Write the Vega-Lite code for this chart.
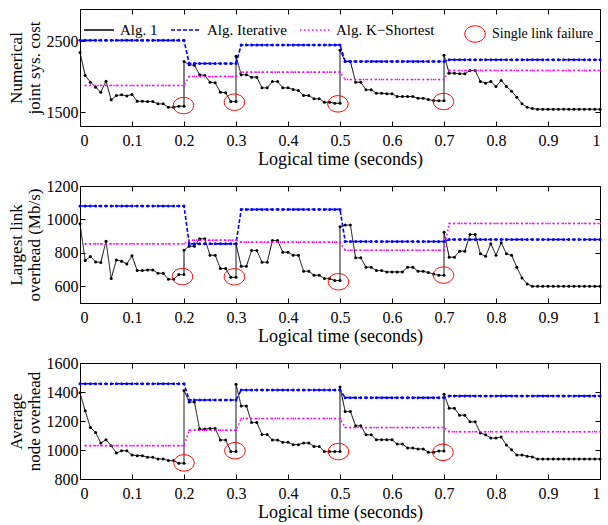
{
"$schema":"https://vega.github.io/schema/vega-lite/v6.json",
"padding":{"left":6,"top":8,"right":0,"bottom":0},
"spacing":60,
"bounds":"flush",
"config":{
 "font":"Liberation Serif",
 "view":{"stroke":"#000000","strokeWidth":1},
 "axis":{"labelFont":"Liberation Serif","labelFontSize":16,"labelColor":"#000","titleFont":"Liberation Serif","titleFontSize":18,"titleFontWeight":"normal","titleColor":"#000","domain":false,"grid":false,"ticks":true,"tickColor":"#000","tickSize":-5,"tickWidth":1},
 "axisY":{"titleFontSize":17,"titleLineHeight":18,"labelPadding":7,"titlePadding":3,"format":"d"},
 "axisX":{"labelPadding":11,"titlePadding":2},
 "legend":{"labelFont":"Liberation Serif","labelFontSize":15,"labelColor":"#000","padding":0}
},
"datasets":{"d":[
{"p":1,"s":"A","t":0,"v":2340},{"p":1,"s":"A","t":0.01,"v":2017},{"p":1,"s":"A","t":0.02,"v":1923},{"p":1,"s":"A","t":0.03,"v":1852},{"p":1,"s":"A","t":0.04,"v":1782},{"p":1,"s":"A","t":0.05,"v":1937},{"p":1,"s":"A","t":0.06,"v":1674},{"p":1,"s":"A","t":0.07,"v":1735},{"p":1,"s":"A","t":0.08,"v":1745},{"p":1,"s":"A","t":0.09,"v":1730},{"p":1,"s":"A","t":0.1,"v":1750},{"p":1,"s":"A","t":0.11,"v":1655},{"p":1,"s":"A","t":0.12,"v":1655},{"p":1,"s":"A","t":0.13,"v":1650},{"p":1,"s":"A","t":0.14,"v":1650},{"p":1,"s":"A","t":0.15,"v":1618},{"p":1,"s":"A","t":0.16,"v":1618},{"p":1,"s":"A","t":0.17,"v":1570},{"p":1,"s":"A","t":0.18,"v":1570},{"p":1,"s":"A","t":0.19,"v":1585},{"p":1,"s":"A","t":0.2,"v":1585},{"p":1,"s":"A","t":0.2,"v":2214},{"p":1,"s":"A","t":0.21,"v":2167},{"p":1,"s":"A","t":0.22,"v":2160},{"p":1,"s":"A","t":0.23,"v":2027},{"p":1,"s":"A","t":0.24,"v":2017},{"p":1,"s":"A","t":0.25,"v":1923},{"p":1,"s":"A","t":0.26,"v":1913},{"p":1,"s":"A","t":0.27,"v":1782},{"p":1,"s":"A","t":0.28,"v":1775},{"p":1,"s":"A","t":0.29,"v":1650},{"p":1,"s":"A","t":0.3,"v":1650},{"p":1,"s":"A","t":0.3,"v":2285},{"p":1,"s":"A","t":0.31,"v":2027},{"p":1,"s":"A","t":0.32,"v":2027},{"p":1,"s":"A","t":0.33,"v":1993},{"p":1,"s":"A","t":0.34,"v":1993},{"p":1,"s":"A","t":0.35,"v":1843},{"p":1,"s":"A","t":0.36,"v":1843},{"p":1,"s":"A","t":0.37,"v":1932},{"p":1,"s":"A","t":0.38,"v":1932},{"p":1,"s":"A","t":0.39,"v":1843},{"p":1,"s":"A","t":0.4,"v":1843},{"p":1,"s":"A","t":0.41,"v":1820},{"p":1,"s":"A","t":0.42,"v":1806},{"p":1,"s":"A","t":0.43,"v":1735},{"p":1,"s":"A","t":0.44,"v":1735},{"p":1,"s":"A","t":0.45,"v":1688},{"p":1,"s":"A","t":0.46,"v":1688},{"p":1,"s":"A","t":0.47,"v":1641},{"p":1,"s":"A","t":0.48,"v":1641},{"p":1,"s":"A","t":0.49,"v":1627},{"p":1,"s":"A","t":0.5,"v":1627},{"p":1,"s":"A","t":0.5,"v":2369},{"p":1,"s":"A","t":0.51,"v":2214},{"p":1,"s":"A","t":0.52,"v":2214},{"p":1,"s":"A","t":0.53,"v":1923},{"p":1,"s":"A","t":0.54,"v":1923},{"p":1,"s":"A","t":0.55,"v":1815},{"p":1,"s":"A","t":0.56,"v":1815},{"p":1,"s":"A","t":0.57,"v":1768},{"p":1,"s":"A","t":0.58,"v":1768},{"p":1,"s":"A","t":0.59,"v":1759},{"p":1,"s":"A","t":0.6,"v":1759},{"p":1,"s":"A","t":0.61,"v":1721},{"p":1,"s":"A","t":0.62,"v":1721},{"p":1,"s":"A","t":0.63,"v":1721},{"p":1,"s":"A","t":0.64,"v":1721},{"p":1,"s":"A","t":0.65,"v":1697},{"p":1,"s":"A","t":0.66,"v":1697},{"p":1,"s":"A","t":0.67,"v":1678},{"p":1,"s":"A","t":0.68,"v":1665},{"p":1,"s":"A","t":0.69,"v":1660},{"p":1,"s":"A","t":0.7,"v":1660},{"p":1,"s":"A","t":0.7,"v":2299},{"p":1,"s":"A","t":0.71,"v":2049},{"p":1,"s":"A","t":0.72,"v":2049},{"p":1,"s":"A","t":0.73,"v":2040},{"p":1,"s":"A","t":0.74,"v":2040},{"p":1,"s":"A","t":0.75,"v":2087},{"p":1,"s":"A","t":0.76,"v":2087},{"p":1,"s":"A","t":0.77,"v":1932},{"p":1,"s":"A","t":0.78,"v":1909},{"p":1,"s":"A","t":0.79,"v":1932},{"p":1,"s":"A","t":0.8,"v":1862},{"p":1,"s":"A","t":0.81,"v":1946},{"p":1,"s":"A","t":0.82,"v":1862},{"p":1,"s":"A","t":0.83,"v":1796},{"p":1,"s":"A","t":0.84,"v":1711},{"p":1,"s":"A","t":0.85,"v":1618},{"p":1,"s":"A","t":0.86,"v":1570},{"p":1,"s":"A","t":0.87,"v":1552},{"p":1,"s":"A","t":0.88,"v":1543},{"p":1,"s":"A","t":0.89,"v":1543},{"p":1,"s":"A","t":0.9,"v":1543},{"p":1,"s":"A","t":0.91,"v":1543},{"p":1,"s":"A","t":0.92,"v":1543},{"p":1,"s":"A","t":0.93,"v":1543},{"p":1,"s":"A","t":0.94,"v":1543},{"p":1,"s":"A","t":0.95,"v":1543},{"p":1,"s":"A","t":0.96,"v":1543},{"p":1,"s":"A","t":0.97,"v":1543},{"p":1,"s":"A","t":0.98,"v":1543},{"p":1,"s":"A","t":0.99,"v":1543},{"p":1,"s":"A","t":1,"v":1543},
{"p":1,"s":"I","t":0,"v":2510},{"p":1,"s":"I","t":0.01,"v":2510},{"p":1,"s":"I","t":0.02,"v":2510},{"p":1,"s":"I","t":0.03,"v":2510},{"p":1,"s":"I","t":0.04,"v":2510},{"p":1,"s":"I","t":0.05,"v":2510},{"p":1,"s":"I","t":0.06,"v":2510},{"p":1,"s":"I","t":0.07,"v":2510},{"p":1,"s":"I","t":0.08,"v":2510},{"p":1,"s":"I","t":0.09,"v":2510},{"p":1,"s":"I","t":0.1,"v":2510},{"p":1,"s":"I","t":0.11,"v":2510},{"p":1,"s":"I","t":0.12,"v":2510},{"p":1,"s":"I","t":0.13,"v":2510},{"p":1,"s":"I","t":0.14,"v":2510},{"p":1,"s":"I","t":0.15,"v":2510},{"p":1,"s":"I","t":0.16,"v":2510},{"p":1,"s":"I","t":0.17,"v":2510},{"p":1,"s":"I","t":0.18,"v":2510},{"p":1,"s":"I","t":0.19,"v":2510},{"p":1,"s":"I","t":0.2,"v":2510},{"p":1,"s":"I","t":0.21,"v":2185},{"p":1,"s":"I","t":0.22,"v":2185},{"p":1,"s":"I","t":0.23,"v":2185},{"p":1,"s":"I","t":0.24,"v":2185},{"p":1,"s":"I","t":0.25,"v":2185},{"p":1,"s":"I","t":0.26,"v":2185},{"p":1,"s":"I","t":0.27,"v":2185},{"p":1,"s":"I","t":0.28,"v":2185},{"p":1,"s":"I","t":0.29,"v":2185},{"p":1,"s":"I","t":0.3,"v":2185},{"p":1,"s":"I","t":0.31,"v":2445},{"p":1,"s":"I","t":0.32,"v":2445},{"p":1,"s":"I","t":0.33,"v":2445},{"p":1,"s":"I","t":0.34,"v":2445},{"p":1,"s":"I","t":0.35,"v":2445},{"p":1,"s":"I","t":0.36,"v":2445},{"p":1,"s":"I","t":0.37,"v":2445},{"p":1,"s":"I","t":0.38,"v":2445},{"p":1,"s":"I","t":0.39,"v":2445},{"p":1,"s":"I","t":0.4,"v":2445},{"p":1,"s":"I","t":0.41,"v":2445},{"p":1,"s":"I","t":0.42,"v":2445},{"p":1,"s":"I","t":0.43,"v":2445},{"p":1,"s":"I","t":0.44,"v":2445},{"p":1,"s":"I","t":0.45,"v":2445},{"p":1,"s":"I","t":0.46,"v":2445},{"p":1,"s":"I","t":0.47,"v":2445},{"p":1,"s":"I","t":0.48,"v":2445},{"p":1,"s":"I","t":0.49,"v":2445},{"p":1,"s":"I","t":0.5,"v":2445},{"p":1,"s":"I","t":0.51,"v":2214},{"p":1,"s":"I","t":0.52,"v":2214},{"p":1,"s":"I","t":0.53,"v":2214},{"p":1,"s":"I","t":0.54,"v":2214},{"p":1,"s":"I","t":0.55,"v":2214},{"p":1,"s":"I","t":0.56,"v":2214},{"p":1,"s":"I","t":0.57,"v":2214},{"p":1,"s":"I","t":0.58,"v":2214},{"p":1,"s":"I","t":0.59,"v":2214},{"p":1,"s":"I","t":0.6,"v":2214},{"p":1,"s":"I","t":0.61,"v":2214},{"p":1,"s":"I","t":0.62,"v":2214},{"p":1,"s":"I","t":0.63,"v":2214},{"p":1,"s":"I","t":0.64,"v":2214},{"p":1,"s":"I","t":0.65,"v":2214},{"p":1,"s":"I","t":0.66,"v":2214},{"p":1,"s":"I","t":0.67,"v":2214},{"p":1,"s":"I","t":0.68,"v":2214},{"p":1,"s":"I","t":0.69,"v":2214},{"p":1,"s":"I","t":0.7,"v":2214},{"p":1,"s":"I","t":0.71,"v":2238},{"p":1,"s":"I","t":0.72,"v":2238},{"p":1,"s":"I","t":0.73,"v":2238},{"p":1,"s":"I","t":0.74,"v":2238},{"p":1,"s":"I","t":0.75,"v":2238},{"p":1,"s":"I","t":0.76,"v":2238},{"p":1,"s":"I","t":0.77,"v":2238},{"p":1,"s":"I","t":0.78,"v":2238},{"p":1,"s":"I","t":0.79,"v":2238},{"p":1,"s":"I","t":0.8,"v":2238},{"p":1,"s":"I","t":0.81,"v":2238},{"p":1,"s":"I","t":0.82,"v":2238},{"p":1,"s":"I","t":0.83,"v":2238},{"p":1,"s":"I","t":0.84,"v":2238},{"p":1,"s":"I","t":0.85,"v":2238},{"p":1,"s":"I","t":0.86,"v":2238},{"p":1,"s":"I","t":0.87,"v":2238},{"p":1,"s":"I","t":0.88,"v":2238},{"p":1,"s":"I","t":0.89,"v":2238},{"p":1,"s":"I","t":0.9,"v":2238},{"p":1,"s":"I","t":0.91,"v":2238},{"p":1,"s":"I","t":0.92,"v":2238},{"p":1,"s":"I","t":0.93,"v":2238},{"p":1,"s":"I","t":0.94,"v":2238},{"p":1,"s":"I","t":0.95,"v":2238},{"p":1,"s":"I","t":0.96,"v":2238},{"p":1,"s":"I","t":0.97,"v":2238},{"p":1,"s":"I","t":0.98,"v":2238},{"p":1,"s":"I","t":0.99,"v":2238},{"p":1,"s":"I","t":1,"v":2238},
{"p":1,"s":"K","t":0.01,"v":1876},{"p":1,"s":"K","t":0.02,"v":1876},{"p":1,"s":"K","t":0.03,"v":1876},{"p":1,"s":"K","t":0.04,"v":1876},{"p":1,"s":"K","t":0.05,"v":1876},{"p":1,"s":"K","t":0.06,"v":1876},{"p":1,"s":"K","t":0.07,"v":1876},{"p":1,"s":"K","t":0.08,"v":1876},{"p":1,"s":"K","t":0.09,"v":1876},{"p":1,"s":"K","t":0.1,"v":1876},{"p":1,"s":"K","t":0.11,"v":1876},{"p":1,"s":"K","t":0.12,"v":1876},{"p":1,"s":"K","t":0.13,"v":1876},{"p":1,"s":"K","t":0.14,"v":1876},{"p":1,"s":"K","t":0.15,"v":1876},{"p":1,"s":"K","t":0.16,"v":1876},{"p":1,"s":"K","t":0.17,"v":1876},{"p":1,"s":"K","t":0.18,"v":1876},{"p":1,"s":"K","t":0.19,"v":1876},{"p":1,"s":"K","t":0.2,"v":1876},{"p":1,"s":"K","t":0.21,"v":2003},{"p":1,"s":"K","t":0.22,"v":2003},{"p":1,"s":"K","t":0.23,"v":2003},{"p":1,"s":"K","t":0.24,"v":2003},{"p":1,"s":"K","t":0.25,"v":2003},{"p":1,"s":"K","t":0.26,"v":2003},{"p":1,"s":"K","t":0.27,"v":2003},{"p":1,"s":"K","t":0.28,"v":2003},{"p":1,"s":"K","t":0.29,"v":2003},{"p":1,"s":"K","t":0.3,"v":2003},{"p":1,"s":"K","t":0.31,"v":2063},{"p":1,"s":"K","t":0.32,"v":2063},{"p":1,"s":"K","t":0.33,"v":2063},{"p":1,"s":"K","t":0.34,"v":2063},{"p":1,"s":"K","t":0.35,"v":2063},{"p":1,"s":"K","t":0.36,"v":2063},{"p":1,"s":"K","t":0.37,"v":2063},{"p":1,"s":"K","t":0.38,"v":2063},{"p":1,"s":"K","t":0.39,"v":2063},{"p":1,"s":"K","t":0.4,"v":2063},{"p":1,"s":"K","t":0.41,"v":2063},{"p":1,"s":"K","t":0.42,"v":2063},{"p":1,"s":"K","t":0.43,"v":2063},{"p":1,"s":"K","t":0.44,"v":2063},{"p":1,"s":"K","t":0.45,"v":2063},{"p":1,"s":"K","t":0.46,"v":2063},{"p":1,"s":"K","t":0.47,"v":2063},{"p":1,"s":"K","t":0.48,"v":2063},{"p":1,"s":"K","t":0.49,"v":2063},{"p":1,"s":"K","t":0.5,"v":2063},{"p":1,"s":"K","t":0.51,"v":1960},{"p":1,"s":"K","t":0.52,"v":1960},{"p":1,"s":"K","t":0.53,"v":1960},{"p":1,"s":"K","t":0.54,"v":1960},{"p":1,"s":"K","t":0.55,"v":1960},{"p":1,"s":"K","t":0.56,"v":1960},{"p":1,"s":"K","t":0.57,"v":1960},{"p":1,"s":"K","t":0.58,"v":1960},{"p":1,"s":"K","t":0.59,"v":1960},{"p":1,"s":"K","t":0.6,"v":1960},{"p":1,"s":"K","t":0.61,"v":1960},{"p":1,"s":"K","t":0.62,"v":1960},{"p":1,"s":"K","t":0.63,"v":1960},{"p":1,"s":"K","t":0.64,"v":1960},{"p":1,"s":"K","t":0.65,"v":1960},{"p":1,"s":"K","t":0.66,"v":1960},{"p":1,"s":"K","t":0.67,"v":1960},{"p":1,"s":"K","t":0.68,"v":1960},{"p":1,"s":"K","t":0.69,"v":1960},{"p":1,"s":"K","t":0.7,"v":1960},{"p":1,"s":"K","t":0.71,"v":2087},{"p":1,"s":"K","t":0.72,"v":2087},{"p":1,"s":"K","t":0.73,"v":2087},{"p":1,"s":"K","t":0.74,"v":2087},{"p":1,"s":"K","t":0.75,"v":2087},{"p":1,"s":"K","t":0.76,"v":2087},{"p":1,"s":"K","t":0.77,"v":2087},{"p":1,"s":"K","t":0.78,"v":2087},{"p":1,"s":"K","t":0.79,"v":2087},{"p":1,"s":"K","t":0.8,"v":2087},{"p":1,"s":"K","t":0.81,"v":2087},{"p":1,"s":"K","t":0.82,"v":2087},{"p":1,"s":"K","t":0.83,"v":2087},{"p":1,"s":"K","t":0.84,"v":2087},{"p":1,"s":"K","t":0.85,"v":2087},{"p":1,"s":"K","t":0.86,"v":2087},{"p":1,"s":"K","t":0.87,"v":2087},{"p":1,"s":"K","t":0.88,"v":2087},{"p":1,"s":"K","t":0.89,"v":2087},{"p":1,"s":"K","t":0.9,"v":2087},{"p":1,"s":"K","t":0.91,"v":2087},{"p":1,"s":"K","t":0.92,"v":2087},{"p":1,"s":"K","t":0.93,"v":2087},{"p":1,"s":"K","t":0.94,"v":2087},{"p":1,"s":"K","t":0.95,"v":2087},{"p":1,"s":"K","t":0.96,"v":2087},{"p":1,"s":"K","t":0.97,"v":2087},{"p":1,"s":"K","t":0.98,"v":2087},{"p":1,"s":"K","t":0.99,"v":2087},{"p":1,"s":"K","t":1,"v":2087},
{"p":1,"s":"C","t":0.199,"v":1594},{"p":1,"s":"C","t":0.297,"v":1641},{"p":1,"s":"C","t":0.496,"v":1618},{"p":1,"s":"C","t":0.699,"v":1651},
{"p":2,"s":"A","t":0,"v":974},{"p":2,"s":"A","t":0.01,"v":754},{"p":2,"s":"A","t":0.02,"v":778},{"p":2,"s":"A","t":0.03,"v":746},{"p":2,"s":"A","t":0.04,"v":742},{"p":2,"s":"A","t":0.05,"v":870},{"p":2,"s":"A","t":0.06,"v":646},{"p":2,"s":"A","t":0.07,"v":758},{"p":2,"s":"A","t":0.08,"v":750},{"p":2,"s":"A","t":0.09,"v":734},{"p":2,"s":"A","t":0.1,"v":782},{"p":2,"s":"A","t":0.11,"v":694},{"p":2,"s":"A","t":0.12,"v":694},{"p":2,"s":"A","t":0.13,"v":698},{"p":2,"s":"A","t":0.14,"v":698},{"p":2,"s":"A","t":0.15,"v":678},{"p":2,"s":"A","t":0.16,"v":678},{"p":2,"s":"A","t":0.17,"v":642},{"p":2,"s":"A","t":0.18,"v":642},{"p":2,"s":"A","t":0.19,"v":670},{"p":2,"s":"A","t":0.2,"v":670},{"p":2,"s":"A","t":0.2,"v":816},{"p":2,"s":"A","t":0.21,"v":840},{"p":2,"s":"A","t":0.22,"v":840},{"p":2,"s":"A","t":0.23,"v":884},{"p":2,"s":"A","t":0.24,"v":884},{"p":2,"s":"A","t":0.25,"v":786},{"p":2,"s":"A","t":0.26,"v":786},{"p":2,"s":"A","t":0.27,"v":706},{"p":2,"s":"A","t":0.28,"v":706},{"p":2,"s":"A","t":0.29,"v":654},{"p":2,"s":"A","t":0.3,"v":654},{"p":2,"s":"A","t":0.3,"v":854},{"p":2,"s":"A","t":0.31,"v":720},{"p":2,"s":"A","t":0.32,"v":720},{"p":2,"s":"A","t":0.33,"v":814},{"p":2,"s":"A","t":0.34,"v":814},{"p":2,"s":"A","t":0.35,"v":744},{"p":2,"s":"A","t":0.36,"v":744},{"p":2,"s":"A","t":0.37,"v":874},{"p":2,"s":"A","t":0.38,"v":874},{"p":2,"s":"A","t":0.39,"v":804},{"p":2,"s":"A","t":0.4,"v":804},{"p":2,"s":"A","t":0.41,"v":786},{"p":2,"s":"A","t":0.42,"v":786},{"p":2,"s":"A","t":0.43,"v":690},{"p":2,"s":"A","t":0.44,"v":690},{"p":2,"s":"A","t":0.45,"v":666},{"p":2,"s":"A","t":0.46,"v":666},{"p":2,"s":"A","t":0.47,"v":646},{"p":2,"s":"A","t":0.48,"v":646},{"p":2,"s":"A","t":0.49,"v":634},{"p":2,"s":"A","t":0.5,"v":634},{"p":2,"s":"A","t":0.5,"v":956},{"p":2,"s":"A","t":0.51,"v":966},{"p":2,"s":"A","t":0.52,"v":966},{"p":2,"s":"A","t":0.53,"v":770},{"p":2,"s":"A","t":0.54,"v":770},{"p":2,"s":"A","t":0.55,"v":714},{"p":2,"s":"A","t":0.56,"v":714},{"p":2,"s":"A","t":0.57,"v":694},{"p":2,"s":"A","t":0.58,"v":694},{"p":2,"s":"A","t":0.59,"v":686},{"p":2,"s":"A","t":0.6,"v":686},{"p":2,"s":"A","t":0.61,"v":686},{"p":2,"s":"A","t":0.62,"v":686},{"p":2,"s":"A","t":0.63,"v":714},{"p":2,"s":"A","t":0.64,"v":714},{"p":2,"s":"A","t":0.65,"v":690},{"p":2,"s":"A","t":0.66,"v":690},{"p":2,"s":"A","t":0.67,"v":682},{"p":2,"s":"A","t":0.68,"v":674},{"p":2,"s":"A","t":0.69,"v":666},{"p":2,"s":"A","t":0.7,"v":666},{"p":2,"s":"A","t":0.7,"v":924},{"p":2,"s":"A","t":0.71,"v":774},{"p":2,"s":"A","t":0.72,"v":774},{"p":2,"s":"A","t":0.73,"v":810},{"p":2,"s":"A","t":0.74,"v":810},{"p":2,"s":"A","t":0.75,"v":910},{"p":2,"s":"A","t":0.76,"v":910},{"p":2,"s":"A","t":0.77,"v":794},{"p":2,"s":"A","t":0.78,"v":780},{"p":2,"s":"A","t":0.79,"v":854},{"p":2,"s":"A","t":0.8,"v":786},{"p":2,"s":"A","t":0.81,"v":860},{"p":2,"s":"A","t":0.82,"v":794},{"p":2,"s":"A","t":0.83,"v":786},{"p":2,"s":"A","t":0.84,"v":714},{"p":2,"s":"A","t":0.85,"v":650},{"p":2,"s":"A","t":0.86,"v":614},{"p":2,"s":"A","t":0.87,"v":600},{"p":2,"s":"A","t":0.88,"v":600},{"p":2,"s":"A","t":0.89,"v":600},{"p":2,"s":"A","t":0.9,"v":600},{"p":2,"s":"A","t":0.91,"v":600},{"p":2,"s":"A","t":0.92,"v":600},{"p":2,"s":"A","t":0.93,"v":600},{"p":2,"s":"A","t":0.94,"v":600},{"p":2,"s":"A","t":0.95,"v":600},{"p":2,"s":"A","t":0.96,"v":600},{"p":2,"s":"A","t":0.97,"v":600},{"p":2,"s":"A","t":0.98,"v":600},{"p":2,"s":"A","t":0.99,"v":600},{"p":2,"s":"A","t":1,"v":600},
{"p":2,"s":"I","t":0,"v":1080},{"p":2,"s":"I","t":0.01,"v":1080},{"p":2,"s":"I","t":0.02,"v":1080},{"p":2,"s":"I","t":0.03,"v":1080},{"p":2,"s":"I","t":0.04,"v":1080},{"p":2,"s":"I","t":0.05,"v":1080},{"p":2,"s":"I","t":0.06,"v":1080},{"p":2,"s":"I","t":0.07,"v":1080},{"p":2,"s":"I","t":0.08,"v":1080},{"p":2,"s":"I","t":0.09,"v":1080},{"p":2,"s":"I","t":0.1,"v":1080},{"p":2,"s":"I","t":0.11,"v":1080},{"p":2,"s":"I","t":0.12,"v":1080},{"p":2,"s":"I","t":0.13,"v":1080},{"p":2,"s":"I","t":0.14,"v":1080},{"p":2,"s":"I","t":0.15,"v":1080},{"p":2,"s":"I","t":0.16,"v":1080},{"p":2,"s":"I","t":0.17,"v":1080},{"p":2,"s":"I","t":0.18,"v":1080},{"p":2,"s":"I","t":0.19,"v":1080},{"p":2,"s":"I","t":0.2,"v":1080},{"p":2,"s":"I","t":0.21,"v":854},{"p":2,"s":"I","t":0.22,"v":854},{"p":2,"s":"I","t":0.23,"v":854},{"p":2,"s":"I","t":0.24,"v":854},{"p":2,"s":"I","t":0.25,"v":854},{"p":2,"s":"I","t":0.26,"v":854},{"p":2,"s":"I","t":0.27,"v":854},{"p":2,"s":"I","t":0.28,"v":854},{"p":2,"s":"I","t":0.29,"v":854},{"p":2,"s":"I","t":0.3,"v":854},{"p":2,"s":"I","t":0.31,"v":1060},{"p":2,"s":"I","t":0.32,"v":1060},{"p":2,"s":"I","t":0.33,"v":1060},{"p":2,"s":"I","t":0.34,"v":1060},{"p":2,"s":"I","t":0.35,"v":1060},{"p":2,"s":"I","t":0.36,"v":1060},{"p":2,"s":"I","t":0.37,"v":1060},{"p":2,"s":"I","t":0.38,"v":1060},{"p":2,"s":"I","t":0.39,"v":1060},{"p":2,"s":"I","t":0.4,"v":1060},{"p":2,"s":"I","t":0.41,"v":1060},{"p":2,"s":"I","t":0.42,"v":1060},{"p":2,"s":"I","t":0.43,"v":1060},{"p":2,"s":"I","t":0.44,"v":1060},{"p":2,"s":"I","t":0.45,"v":1060},{"p":2,"s":"I","t":0.46,"v":1060},{"p":2,"s":"I","t":0.47,"v":1060},{"p":2,"s":"I","t":0.48,"v":1060},{"p":2,"s":"I","t":0.49,"v":1060},{"p":2,"s":"I","t":0.5,"v":1060},{"p":2,"s":"I","t":0.51,"v":868},{"p":2,"s":"I","t":0.52,"v":868},{"p":2,"s":"I","t":0.53,"v":868},{"p":2,"s":"I","t":0.54,"v":868},{"p":2,"s":"I","t":0.55,"v":868},{"p":2,"s":"I","t":0.56,"v":868},{"p":2,"s":"I","t":0.57,"v":868},{"p":2,"s":"I","t":0.58,"v":868},{"p":2,"s":"I","t":0.59,"v":868},{"p":2,"s":"I","t":0.6,"v":868},{"p":2,"s":"I","t":0.61,"v":868},{"p":2,"s":"I","t":0.62,"v":868},{"p":2,"s":"I","t":0.63,"v":868},{"p":2,"s":"I","t":0.64,"v":868},{"p":2,"s":"I","t":0.65,"v":868},{"p":2,"s":"I","t":0.66,"v":868},{"p":2,"s":"I","t":0.67,"v":868},{"p":2,"s":"I","t":0.68,"v":868},{"p":2,"s":"I","t":0.69,"v":868},{"p":2,"s":"I","t":0.7,"v":868},{"p":2,"s":"I","t":0.71,"v":880},{"p":2,"s":"I","t":0.72,"v":880},{"p":2,"s":"I","t":0.73,"v":880},{"p":2,"s":"I","t":0.74,"v":880},{"p":2,"s":"I","t":0.75,"v":880},{"p":2,"s":"I","t":0.76,"v":880},{"p":2,"s":"I","t":0.77,"v":880},{"p":2,"s":"I","t":0.78,"v":880},{"p":2,"s":"I","t":0.79,"v":880},{"p":2,"s":"I","t":0.8,"v":880},{"p":2,"s":"I","t":0.81,"v":880},{"p":2,"s":"I","t":0.82,"v":880},{"p":2,"s":"I","t":0.83,"v":880},{"p":2,"s":"I","t":0.84,"v":880},{"p":2,"s":"I","t":0.85,"v":880},{"p":2,"s":"I","t":0.86,"v":880},{"p":2,"s":"I","t":0.87,"v":880},{"p":2,"s":"I","t":0.88,"v":880},{"p":2,"s":"I","t":0.89,"v":880},{"p":2,"s":"I","t":0.9,"v":880},{"p":2,"s":"I","t":0.91,"v":880},{"p":2,"s":"I","t":0.92,"v":880},{"p":2,"s":"I","t":0.93,"v":880},{"p":2,"s":"I","t":0.94,"v":880},{"p":2,"s":"I","t":0.95,"v":880},{"p":2,"s":"I","t":0.96,"v":880},{"p":2,"s":"I","t":0.97,"v":880},{"p":2,"s":"I","t":0.98,"v":880},{"p":2,"s":"I","t":0.99,"v":880},{"p":2,"s":"I","t":1,"v":880},
{"p":2,"s":"K","t":0.01,"v":854},{"p":2,"s":"K","t":0.02,"v":854},{"p":2,"s":"K","t":0.03,"v":854},{"p":2,"s":"K","t":0.04,"v":854},{"p":2,"s":"K","t":0.05,"v":854},{"p":2,"s":"K","t":0.06,"v":854},{"p":2,"s":"K","t":0.07,"v":854},{"p":2,"s":"K","t":0.08,"v":854},{"p":2,"s":"K","t":0.09,"v":854},{"p":2,"s":"K","t":0.1,"v":854},{"p":2,"s":"K","t":0.11,"v":854},{"p":2,"s":"K","t":0.12,"v":854},{"p":2,"s":"K","t":0.13,"v":854},{"p":2,"s":"K","t":0.14,"v":854},{"p":2,"s":"K","t":0.15,"v":854},{"p":2,"s":"K","t":0.16,"v":854},{"p":2,"s":"K","t":0.17,"v":854},{"p":2,"s":"K","t":0.18,"v":854},{"p":2,"s":"K","t":0.19,"v":854},{"p":2,"s":"K","t":0.2,"v":854},{"p":2,"s":"K","t":0.21,"v":876},{"p":2,"s":"K","t":0.22,"v":876},{"p":2,"s":"K","t":0.23,"v":876},{"p":2,"s":"K","t":0.24,"v":876},{"p":2,"s":"K","t":0.25,"v":876},{"p":2,"s":"K","t":0.26,"v":876},{"p":2,"s":"K","t":0.27,"v":876},{"p":2,"s":"K","t":0.28,"v":876},{"p":2,"s":"K","t":0.29,"v":876},{"p":2,"s":"K","t":0.3,"v":876},{"p":2,"s":"K","t":0.31,"v":864},{"p":2,"s":"K","t":0.32,"v":864},{"p":2,"s":"K","t":0.33,"v":864},{"p":2,"s":"K","t":0.34,"v":864},{"p":2,"s":"K","t":0.35,"v":864},{"p":2,"s":"K","t":0.36,"v":864},{"p":2,"s":"K","t":0.37,"v":864},{"p":2,"s":"K","t":0.38,"v":864},{"p":2,"s":"K","t":0.39,"v":864},{"p":2,"s":"K","t":0.4,"v":864},{"p":2,"s":"K","t":0.41,"v":864},{"p":2,"s":"K","t":0.42,"v":864},{"p":2,"s":"K","t":0.43,"v":864},{"p":2,"s":"K","t":0.44,"v":864},{"p":2,"s":"K","t":0.45,"v":864},{"p":2,"s":"K","t":0.46,"v":864},{"p":2,"s":"K","t":0.47,"v":864},{"p":2,"s":"K","t":0.48,"v":864},{"p":2,"s":"K","t":0.49,"v":864},{"p":2,"s":"K","t":0.5,"v":864},{"p":2,"s":"K","t":0.51,"v":816},{"p":2,"s":"K","t":0.52,"v":816},{"p":2,"s":"K","t":0.53,"v":816},{"p":2,"s":"K","t":0.54,"v":816},{"p":2,"s":"K","t":0.55,"v":816},{"p":2,"s":"K","t":0.56,"v":816},{"p":2,"s":"K","t":0.57,"v":816},{"p":2,"s":"K","t":0.58,"v":816},{"p":2,"s":"K","t":0.59,"v":816},{"p":2,"s":"K","t":0.6,"v":816},{"p":2,"s":"K","t":0.61,"v":816},{"p":2,"s":"K","t":0.62,"v":816},{"p":2,"s":"K","t":0.63,"v":816},{"p":2,"s":"K","t":0.64,"v":816},{"p":2,"s":"K","t":0.65,"v":816},{"p":2,"s":"K","t":0.66,"v":816},{"p":2,"s":"K","t":0.67,"v":816},{"p":2,"s":"K","t":0.68,"v":816},{"p":2,"s":"K","t":0.69,"v":816},{"p":2,"s":"K","t":0.7,"v":816},{"p":2,"s":"K","t":0.71,"v":976},{"p":2,"s":"K","t":0.72,"v":976},{"p":2,"s":"K","t":0.73,"v":976},{"p":2,"s":"K","t":0.74,"v":976},{"p":2,"s":"K","t":0.75,"v":976},{"p":2,"s":"K","t":0.76,"v":976},{"p":2,"s":"K","t":0.77,"v":976},{"p":2,"s":"K","t":0.78,"v":976},{"p":2,"s":"K","t":0.79,"v":976},{"p":2,"s":"K","t":0.8,"v":976},{"p":2,"s":"K","t":0.81,"v":976},{"p":2,"s":"K","t":0.82,"v":976},{"p":2,"s":"K","t":0.83,"v":976},{"p":2,"s":"K","t":0.84,"v":976},{"p":2,"s":"K","t":0.85,"v":976},{"p":2,"s":"K","t":0.86,"v":976},{"p":2,"s":"K","t":0.87,"v":976},{"p":2,"s":"K","t":0.88,"v":976},{"p":2,"s":"K","t":0.89,"v":976},{"p":2,"s":"K","t":0.9,"v":976},{"p":2,"s":"K","t":0.91,"v":976},{"p":2,"s":"K","t":0.92,"v":976},{"p":2,"s":"K","t":0.93,"v":976},{"p":2,"s":"K","t":0.94,"v":976},{"p":2,"s":"K","t":0.95,"v":976},{"p":2,"s":"K","t":0.96,"v":976},{"p":2,"s":"K","t":0.97,"v":976},{"p":2,"s":"K","t":0.98,"v":976},{"p":2,"s":"K","t":0.99,"v":976},{"p":2,"s":"K","t":1,"v":976},
{"p":2,"s":"C","t":0.197,"v":658},{"p":2,"s":"C","t":0.297,"v":657},{"p":2,"s":"C","t":0.497,"v":627},{"p":2,"s":"C","t":0.699,"v":667},
{"p":3,"s":"A","t":0,"v":1395},{"p":3,"s":"A","t":0.01,"v":1270},{"p":3,"s":"A","t":0.02,"v":1155},{"p":3,"s":"A","t":0.03,"v":1121},{"p":3,"s":"A","t":0.04,"v":1048},{"p":3,"s":"A","t":0.05,"v":1071},{"p":3,"s":"A","t":0.06,"v":1030},{"p":3,"s":"A","t":0.07,"v":979},{"p":3,"s":"A","t":0.08,"v":995},{"p":3,"s":"A","t":0.09,"v":995},{"p":3,"s":"A","t":0.1,"v":966},{"p":3,"s":"A","t":0.11,"v":961},{"p":3,"s":"A","t":0.12,"v":961},{"p":3,"s":"A","t":0.13,"v":950},{"p":3,"s":"A","t":0.14,"v":950},{"p":3,"s":"A","t":0.15,"v":938},{"p":3,"s":"A","t":0.16,"v":938},{"p":3,"s":"A","t":0.17,"v":927},{"p":3,"s":"A","t":0.18,"v":927},{"p":3,"s":"A","t":0.19,"v":909},{"p":3,"s":"A","t":0.2,"v":909},{"p":3,"s":"A","t":0.2,"v":1411},{"p":3,"s":"A","t":0.21,"v":1331},{"p":3,"s":"A","t":0.22,"v":1331},{"p":3,"s":"A","t":0.23,"v":1144},{"p":3,"s":"A","t":0.24,"v":1144},{"p":3,"s":"A","t":0.25,"v":1149},{"p":3,"s":"A","t":0.26,"v":1149},{"p":3,"s":"A","t":0.27,"v":1069},{"p":3,"s":"A","t":0.28,"v":1069},{"p":3,"s":"A","t":0.29,"v":989},{"p":3,"s":"A","t":0.3,"v":989},{"p":3,"s":"A","t":0.3,"v":1453},{"p":3,"s":"A","t":0.31,"v":1304},{"p":3,"s":"A","t":0.32,"v":1304},{"p":3,"s":"A","t":0.33,"v":1190},{"p":3,"s":"A","t":0.34,"v":1190},{"p":3,"s":"A","t":0.35,"v":1107},{"p":3,"s":"A","t":0.36,"v":1107},{"p":3,"s":"A","t":0.37,"v":1069},{"p":3,"s":"A","t":0.38,"v":1069},{"p":3,"s":"A","t":0.39,"v":1053},{"p":3,"s":"A","t":0.4,"v":1053},{"p":3,"s":"A","t":0.41,"v":1037},{"p":3,"s":"A","t":0.42,"v":1037},{"p":3,"s":"A","t":0.43,"v":1048},{"p":3,"s":"A","t":0.44,"v":1048},{"p":3,"s":"A","t":0.45,"v":1025},{"p":3,"s":"A","t":0.46,"v":1025},{"p":3,"s":"A","t":0.47,"v":989},{"p":3,"s":"A","t":0.48,"v":989},{"p":3,"s":"A","t":0.49,"v":989},{"p":3,"s":"A","t":0.5,"v":989},{"p":3,"s":"A","t":0.5,"v":1434},{"p":3,"s":"A","t":0.51,"v":1265},{"p":3,"s":"A","t":0.52,"v":1265},{"p":3,"s":"A","t":0.53,"v":1167},{"p":3,"s":"A","t":0.54,"v":1167},{"p":3,"s":"A","t":0.55,"v":1105},{"p":3,"s":"A","t":0.56,"v":1105},{"p":3,"s":"A","t":0.57,"v":1071},{"p":3,"s":"A","t":0.58,"v":1071},{"p":3,"s":"A","t":0.59,"v":1071},{"p":3,"s":"A","t":0.6,"v":1071},{"p":3,"s":"A","t":0.61,"v":1041},{"p":3,"s":"A","t":0.62,"v":1041},{"p":3,"s":"A","t":0.63,"v":1014},{"p":3,"s":"A","t":0.64,"v":1014},{"p":3,"s":"A","t":0.65,"v":1007},{"p":3,"s":"A","t":0.66,"v":1007},{"p":3,"s":"A","t":0.67,"v":984},{"p":3,"s":"A","t":0.68,"v":984},{"p":3,"s":"A","t":0.69,"v":993},{"p":3,"s":"A","t":0.7,"v":993},{"p":3,"s":"A","t":0.7,"v":1384},{"p":3,"s":"A","t":0.71,"v":1288},{"p":3,"s":"A","t":0.72,"v":1288},{"p":3,"s":"A","t":0.73,"v":1240},{"p":3,"s":"A","t":0.74,"v":1240},{"p":3,"s":"A","t":0.75,"v":1194},{"p":3,"s":"A","t":0.76,"v":1194},{"p":3,"s":"A","t":0.77,"v":1117},{"p":3,"s":"A","t":0.78,"v":1105},{"p":3,"s":"A","t":0.79,"v":1082},{"p":3,"s":"A","t":0.8,"v":1082},{"p":3,"s":"A","t":0.81,"v":1089},{"p":3,"s":"A","t":0.82,"v":1034},{"p":3,"s":"A","t":0.83,"v":1002},{"p":3,"s":"A","t":0.84,"v":966},{"p":3,"s":"A","t":0.85,"v":966},{"p":3,"s":"A","t":0.86,"v":957},{"p":3,"s":"A","t":0.87,"v":952},{"p":3,"s":"A","t":0.88,"v":938},{"p":3,"s":"A","t":0.89,"v":938},{"p":3,"s":"A","t":0.9,"v":938},{"p":3,"s":"A","t":0.91,"v":938},{"p":3,"s":"A","t":0.92,"v":938},{"p":3,"s":"A","t":0.93,"v":938},{"p":3,"s":"A","t":0.94,"v":938},{"p":3,"s":"A","t":0.95,"v":938},{"p":3,"s":"A","t":0.96,"v":938},{"p":3,"s":"A","t":0.97,"v":938},{"p":3,"s":"A","t":0.98,"v":938},{"p":3,"s":"A","t":0.99,"v":938},{"p":3,"s":"A","t":1,"v":938},
{"p":3,"s":"I","t":0,"v":1457},{"p":3,"s":"I","t":0.01,"v":1457},{"p":3,"s":"I","t":0.02,"v":1457},{"p":3,"s":"I","t":0.03,"v":1457},{"p":3,"s":"I","t":0.04,"v":1457},{"p":3,"s":"I","t":0.05,"v":1457},{"p":3,"s":"I","t":0.06,"v":1457},{"p":3,"s":"I","t":0.07,"v":1457},{"p":3,"s":"I","t":0.08,"v":1457},{"p":3,"s":"I","t":0.09,"v":1457},{"p":3,"s":"I","t":0.1,"v":1457},{"p":3,"s":"I","t":0.11,"v":1457},{"p":3,"s":"I","t":0.12,"v":1457},{"p":3,"s":"I","t":0.13,"v":1457},{"p":3,"s":"I","t":0.14,"v":1457},{"p":3,"s":"I","t":0.15,"v":1457},{"p":3,"s":"I","t":0.16,"v":1457},{"p":3,"s":"I","t":0.17,"v":1457},{"p":3,"s":"I","t":0.18,"v":1457},{"p":3,"s":"I","t":0.19,"v":1457},{"p":3,"s":"I","t":0.2,"v":1457},{"p":3,"s":"I","t":0.21,"v":1345},{"p":3,"s":"I","t":0.22,"v":1345},{"p":3,"s":"I","t":0.23,"v":1345},{"p":3,"s":"I","t":0.24,"v":1345},{"p":3,"s":"I","t":0.25,"v":1345},{"p":3,"s":"I","t":0.26,"v":1345},{"p":3,"s":"I","t":0.27,"v":1345},{"p":3,"s":"I","t":0.28,"v":1345},{"p":3,"s":"I","t":0.29,"v":1345},{"p":3,"s":"I","t":0.3,"v":1345},{"p":3,"s":"I","t":0.31,"v":1414},{"p":3,"s":"I","t":0.32,"v":1414},{"p":3,"s":"I","t":0.33,"v":1414},{"p":3,"s":"I","t":0.34,"v":1414},{"p":3,"s":"I","t":0.35,"v":1414},{"p":3,"s":"I","t":0.36,"v":1414},{"p":3,"s":"I","t":0.37,"v":1414},{"p":3,"s":"I","t":0.38,"v":1414},{"p":3,"s":"I","t":0.39,"v":1414},{"p":3,"s":"I","t":0.4,"v":1414},{"p":3,"s":"I","t":0.41,"v":1414},{"p":3,"s":"I","t":0.42,"v":1414},{"p":3,"s":"I","t":0.43,"v":1414},{"p":3,"s":"I","t":0.44,"v":1414},{"p":3,"s":"I","t":0.45,"v":1414},{"p":3,"s":"I","t":0.46,"v":1414},{"p":3,"s":"I","t":0.47,"v":1414},{"p":3,"s":"I","t":0.48,"v":1414},{"p":3,"s":"I","t":0.49,"v":1414},{"p":3,"s":"I","t":0.5,"v":1414},{"p":3,"s":"I","t":0.51,"v":1361},{"p":3,"s":"I","t":0.52,"v":1361},{"p":3,"s":"I","t":0.53,"v":1361},{"p":3,"s":"I","t":0.54,"v":1361},{"p":3,"s":"I","t":0.55,"v":1361},{"p":3,"s":"I","t":0.56,"v":1361},{"p":3,"s":"I","t":0.57,"v":1361},{"p":3,"s":"I","t":0.58,"v":1361},{"p":3,"s":"I","t":0.59,"v":1361},{"p":3,"s":"I","t":0.6,"v":1361},{"p":3,"s":"I","t":0.61,"v":1361},{"p":3,"s":"I","t":0.62,"v":1361},{"p":3,"s":"I","t":0.63,"v":1361},{"p":3,"s":"I","t":0.64,"v":1361},{"p":3,"s":"I","t":0.65,"v":1361},{"p":3,"s":"I","t":0.66,"v":1361},{"p":3,"s":"I","t":0.67,"v":1361},{"p":3,"s":"I","t":0.68,"v":1361},{"p":3,"s":"I","t":0.69,"v":1361},{"p":3,"s":"I","t":0.7,"v":1361},{"p":3,"s":"I","t":0.71,"v":1373},{"p":3,"s":"I","t":0.72,"v":1373},{"p":3,"s":"I","t":0.73,"v":1373},{"p":3,"s":"I","t":0.74,"v":1373},{"p":3,"s":"I","t":0.75,"v":1373},{"p":3,"s":"I","t":0.76,"v":1373},{"p":3,"s":"I","t":0.77,"v":1373},{"p":3,"s":"I","t":0.78,"v":1373},{"p":3,"s":"I","t":0.79,"v":1373},{"p":3,"s":"I","t":0.8,"v":1373},{"p":3,"s":"I","t":0.81,"v":1373},{"p":3,"s":"I","t":0.82,"v":1373},{"p":3,"s":"I","t":0.83,"v":1373},{"p":3,"s":"I","t":0.84,"v":1373},{"p":3,"s":"I","t":0.85,"v":1373},{"p":3,"s":"I","t":0.86,"v":1373},{"p":3,"s":"I","t":0.87,"v":1373},{"p":3,"s":"I","t":0.88,"v":1373},{"p":3,"s":"I","t":0.89,"v":1373},{"p":3,"s":"I","t":0.9,"v":1373},{"p":3,"s":"I","t":0.91,"v":1373},{"p":3,"s":"I","t":0.92,"v":1373},{"p":3,"s":"I","t":0.93,"v":1373},{"p":3,"s":"I","t":0.94,"v":1373},{"p":3,"s":"I","t":0.95,"v":1373},{"p":3,"s":"I","t":0.96,"v":1373},{"p":3,"s":"I","t":0.97,"v":1373},{"p":3,"s":"I","t":0.98,"v":1373},{"p":3,"s":"I","t":0.99,"v":1373},{"p":3,"s":"I","t":1,"v":1373},
{"p":3,"s":"K","t":0.01,"v":1030},{"p":3,"s":"K","t":0.02,"v":1030},{"p":3,"s":"K","t":0.03,"v":1030},{"p":3,"s":"K","t":0.04,"v":1030},{"p":3,"s":"K","t":0.05,"v":1030},{"p":3,"s":"K","t":0.06,"v":1030},{"p":3,"s":"K","t":0.07,"v":1030},{"p":3,"s":"K","t":0.08,"v":1030},{"p":3,"s":"K","t":0.09,"v":1030},{"p":3,"s":"K","t":0.1,"v":1030},{"p":3,"s":"K","t":0.11,"v":1030},{"p":3,"s":"K","t":0.12,"v":1030},{"p":3,"s":"K","t":0.13,"v":1030},{"p":3,"s":"K","t":0.14,"v":1030},{"p":3,"s":"K","t":0.15,"v":1030},{"p":3,"s":"K","t":0.16,"v":1030},{"p":3,"s":"K","t":0.17,"v":1030},{"p":3,"s":"K","t":0.18,"v":1030},{"p":3,"s":"K","t":0.19,"v":1030},{"p":3,"s":"K","t":0.2,"v":1030},{"p":3,"s":"K","t":0.21,"v":1137},{"p":3,"s":"K","t":0.22,"v":1137},{"p":3,"s":"K","t":0.23,"v":1137},{"p":3,"s":"K","t":0.24,"v":1137},{"p":3,"s":"K","t":0.25,"v":1137},{"p":3,"s":"K","t":0.26,"v":1137},{"p":3,"s":"K","t":0.27,"v":1137},{"p":3,"s":"K","t":0.28,"v":1137},{"p":3,"s":"K","t":0.29,"v":1137},{"p":3,"s":"K","t":0.3,"v":1137},{"p":3,"s":"K","t":0.31,"v":1217},{"p":3,"s":"K","t":0.32,"v":1217},{"p":3,"s":"K","t":0.33,"v":1217},{"p":3,"s":"K","t":0.34,"v":1217},{"p":3,"s":"K","t":0.35,"v":1217},{"p":3,"s":"K","t":0.36,"v":1217},{"p":3,"s":"K","t":0.37,"v":1217},{"p":3,"s":"K","t":0.38,"v":1217},{"p":3,"s":"K","t":0.39,"v":1217},{"p":3,"s":"K","t":0.4,"v":1217},{"p":3,"s":"K","t":0.41,"v":1217},{"p":3,"s":"K","t":0.42,"v":1217},{"p":3,"s":"K","t":0.43,"v":1217},{"p":3,"s":"K","t":0.44,"v":1217},{"p":3,"s":"K","t":0.45,"v":1217},{"p":3,"s":"K","t":0.46,"v":1217},{"p":3,"s":"K","t":0.47,"v":1217},{"p":3,"s":"K","t":0.48,"v":1217},{"p":3,"s":"K","t":0.49,"v":1217},{"p":3,"s":"K","t":0.5,"v":1217},{"p":3,"s":"K","t":0.51,"v":1155},{"p":3,"s":"K","t":0.52,"v":1155},{"p":3,"s":"K","t":0.53,"v":1155},{"p":3,"s":"K","t":0.54,"v":1155},{"p":3,"s":"K","t":0.55,"v":1155},{"p":3,"s":"K","t":0.56,"v":1155},{"p":3,"s":"K","t":0.57,"v":1155},{"p":3,"s":"K","t":0.58,"v":1155},{"p":3,"s":"K","t":0.59,"v":1155},{"p":3,"s":"K","t":0.6,"v":1155},{"p":3,"s":"K","t":0.61,"v":1155},{"p":3,"s":"K","t":0.62,"v":1155},{"p":3,"s":"K","t":0.63,"v":1155},{"p":3,"s":"K","t":0.64,"v":1155},{"p":3,"s":"K","t":0.65,"v":1155},{"p":3,"s":"K","t":0.66,"v":1155},{"p":3,"s":"K","t":0.67,"v":1155},{"p":3,"s":"K","t":0.68,"v":1155},{"p":3,"s":"K","t":0.69,"v":1155},{"p":3,"s":"K","t":0.7,"v":1155},{"p":3,"s":"K","t":0.71,"v":1126},{"p":3,"s":"K","t":0.72,"v":1126},{"p":3,"s":"K","t":0.73,"v":1126},{"p":3,"s":"K","t":0.74,"v":1126},{"p":3,"s":"K","t":0.75,"v":1126},{"p":3,"s":"K","t":0.76,"v":1126},{"p":3,"s":"K","t":0.77,"v":1126},{"p":3,"s":"K","t":0.78,"v":1126},{"p":3,"s":"K","t":0.79,"v":1126},{"p":3,"s":"K","t":0.8,"v":1126},{"p":3,"s":"K","t":0.81,"v":1126},{"p":3,"s":"K","t":0.82,"v":1126},{"p":3,"s":"K","t":0.83,"v":1126},{"p":3,"s":"K","t":0.84,"v":1126},{"p":3,"s":"K","t":0.85,"v":1126},{"p":3,"s":"K","t":0.86,"v":1126},{"p":3,"s":"K","t":0.87,"v":1126},{"p":3,"s":"K","t":0.88,"v":1126},{"p":3,"s":"K","t":0.89,"v":1126},{"p":3,"s":"K","t":0.9,"v":1126},{"p":3,"s":"K","t":0.91,"v":1126},{"p":3,"s":"K","t":0.92,"v":1126},{"p":3,"s":"K","t":0.93,"v":1126},{"p":3,"s":"K","t":0.94,"v":1126},{"p":3,"s":"K","t":0.95,"v":1126},{"p":3,"s":"K","t":0.96,"v":1126},{"p":3,"s":"K","t":0.97,"v":1126},{"p":3,"s":"K","t":0.98,"v":1126},{"p":3,"s":"K","t":0.99,"v":1126},{"p":3,"s":"K","t":1,"v":1126},
{"p":3,"s":"C","t":0.2,"v":911},{"p":3,"s":"C","t":0.298,"v":995},{"p":3,"s":"C","t":0.497,"v":989},{"p":3,"s":"C","t":0.698,"v":984}
]},
"vconcat":[
{"width":520,"height":117,"data":{"name":"d"},
 "layer":[
  {"encoding":{
    "x":{"field":"t","type":"quantitative","scale":{"domain":[0,1],"nice":false},"axis":{"values":[0,0.1,0.2,0.3,0.4,0.5,0.6,0.7,0.8,0.9,1],"format":"~g","title":"Logical time (seconds)"}},
    "y":{"field":"v","type":"quantitative","scale":{"domain":[1307,2950],"nice":false,"zero":false},"axis":{"values":[1500,2500],"title":["Numerical","joint sys. cost"]}}},
   "layer":[
    {"transform":[{"filter":"datum.p==1 && datum.s!='C'"}],"mark":{"type":"line"},
     "encoding":{
      "color":{"field":"s","type":"nominal","scale":{"domain":["A","I","K"],"range":["#000000","#0000ff","#ff00ff"]},"legend":{"title":null,"orient":"none","legendX":3,"legendY":5,"direction":"horizontal","symbolType":"stroke","symbolSize":900,"symbolStrokeWidth":1.5,"labelFontSize":15,"columnPadding":10,"labelOffset":5,"labelExpr":"datum.label=='A'?'Alg. 1':datum.label=='I'?'Alg. Iterative':'Alg. K\u2212Shortest'"}},
      "strokeDash":{"field":"s","type":"nominal","scale":{"domain":["A","I","K"],"range":[[1,0],[4,2],[1.5,2.5]]},"legend":{"title":null,"orient":"none","legendX":3,"legendY":5,"direction":"horizontal","symbolType":"stroke","symbolSize":900,"symbolStrokeWidth":1.5,"labelFontSize":15,"columnPadding":10,"labelOffset":5,"labelExpr":"datum.label=='A'?'Alg. 1':datum.label=='I'?'Alg. Iterative':'Alg. K\u2212Shortest'"}},
      "strokeWidth":{"condition":{"test":"datum.s=='A'","value":1},"value":1.6}}},
    {"transform":[{"filter":"datum.p==1 && datum.s!='C'"}],"mark":{"type":"point","filled":true,"opacity":1},
     "encoding":{
      "color":{"field":"s","type":"nominal","scale":{"domain":["A","I","K"],"range":["#000000","#0000ff","#ff00ff"]}},
      "size":{"condition":{"test":"datum.s=='K'","value":3},"value":9}}},
    {"transform":[{"filter":"datum.p==1 && datum.s=='C'"}],"mark":{"type":"point","filled":false,"color":"#ff0000","strokeWidth":1,"size":420,"opacity":1},
     "encoding":{"shape":{"field":"s","type":"nominal","scale":{"domain":["C"],"range":["M-1,0A1,0.8,0,1,1,1,0A1,0.8,0,1,1,-1,0Z"]},"legend":{"title":null,"orient":"none","legendX":384,"legendY":14,"symbolStrokeColor":"#ff0000","symbolFillColor":"transparent","symbolStrokeWidth":1,"symbolSize":420,"labelFontSize":14,"labelOffset":6,"labelExpr":"'Single link failure'"}}}},
    {"data":{"values":[{"a":"x 10"}]},"mark":{"type":"text","align":"right","baseline":"alphabetic","dx":-16,"dy":41,"fontSize":16,"font":"Liberation Serif","color":"#000"},"encoding":{"x":{"datum":1,"type":"quantitative"},"y":{"datum":1307,"type":"quantitative"},"text":{"field":"a"}}},
    {"data":{"values":[{"a":"\u22125"}]},"mark":{"type":"text","align":"right","baseline":"alphabetic","dx":-1,"dy":32,"fontSize":12,"font":"Liberation Serif","color":"#000"},"encoding":{"x":{"datum":1,"type":"quantitative"},"y":{"datum":1307,"type":"quantitative"},"text":{"field":"a"}}}
   ]},
  {"transform":[{"filter":"datum.p==1 && datum.s=='A'"}],"mark":{"type":"point","opacity":0},
   "encoding":{
    "x":{"field":"t","type":"quantitative","scale":{"domain":[0,1],"nice":false},"axis":{"orient":"top","values":[0,0.1,0.2,0.3,0.4,0.5,0.6,0.7,0.8,0.9,1],"labels":false,"title":null}},
    "y":{"field":"v","type":"quantitative","scale":{"domain":[1307,2950],"nice":false,"zero":false},"axis":{"orient":"right","values":[1500,2500],"labels":false,"title":null}}}}
 ],
 "resolve":{"axis":{"x":"independent","y":"independent"}}
},
{"width":520,"height":117,"data":{"name":"d"},
 "layer":[
  {"encoding":{
    "x":{"field":"t","type":"quantitative","scale":{"domain":[0,1],"nice":false},"axis":{"values":[0,0.1,0.2,0.3,0.4,0.5,0.6,0.7,0.8,0.9,1],"format":"~g","title":"Logical time (seconds)"}},
    "y":{"field":"v","type":"quantitative","scale":{"domain":[500,1200],"nice":false,"zero":false},"axis":{"values":[600,800,1000,1200],"title":["Largest link","overhead (Mb/s)"]}}},
   "layer":[
    {"transform":[{"filter":"datum.p==2 && datum.s!='C'"}],"mark":{"type":"line"},
     "encoding":{
      "color":{"field":"s","type":"nominal","scale":{"domain":["A","I","K"],"range":["#000000","#0000ff","#ff00ff"]}},
      "strokeDash":{"field":"s","type":"nominal","scale":{"domain":["A","I","K"],"range":[[1,0],[4,2],[1.5,2.5]]}},
      "strokeWidth":{"condition":{"test":"datum.s=='A'","value":1},"value":1.6}}},
    {"transform":[{"filter":"datum.p==2 && datum.s!='C'"}],"mark":{"type":"point","filled":true,"opacity":1},
     "encoding":{
      "color":{"field":"s","type":"nominal","scale":{"domain":["A","I","K"],"range":["#000000","#0000ff","#ff00ff"]}},
      "size":{"condition":{"test":"datum.s=='K'","value":3},"value":9}}},
    {"transform":[{"filter":"datum.p==2 && datum.s=='C'"}],"mark":{"type":"point","filled":false,"color":"#ff0000","strokeWidth":1,"size":420,"opacity":1},
     "encoding":{"shape":{"field":"s","type":"nominal","scale":{"domain":["C"],"range":["M-1,0A1,0.8,0,1,1,1,0A1,0.8,0,1,1,-1,0Z"]}}}},
    {"data":{"values":[{"a":"x 10"}]},"mark":{"type":"text","align":"right","baseline":"alphabetic","dx":-16,"dy":41,"fontSize":16,"font":"Liberation Serif","color":"#000"},"encoding":{"x":{"datum":1,"type":"quantitative"},"y":{"datum":500,"type":"quantitative"},"text":{"field":"a"}}},
    {"data":{"values":[{"a":"\u22125"}]},"mark":{"type":"text","align":"right","baseline":"alphabetic","dx":-1,"dy":32,"fontSize":12,"font":"Liberation Serif","color":"#000"},"encoding":{"x":{"datum":1,"type":"quantitative"},"y":{"datum":500,"type":"quantitative"},"text":{"field":"a"}}}
   ]},
  {"transform":[{"filter":"datum.p==2 && datum.s=='A'"}],"mark":{"type":"point","opacity":0},
   "encoding":{
    "x":{"field":"t","type":"quantitative","scale":{"domain":[0,1],"nice":false},"axis":{"orient":"top","values":[0,0.1,0.2,0.3,0.4,0.5,0.6,0.7,0.8,0.9,1],"labels":false,"title":null}},
    "y":{"field":"v","type":"quantitative","scale":{"domain":[500,1200],"nice":false,"zero":false},"axis":{"orient":"right","values":[600,800,1000,1200],"labels":false,"title":null}}}}
 ],
 "resolve":{"axis":{"x":"independent","y":"independent"}}
},
{"width":520,"height":116,"data":{"name":"d"},
 "layer":[
  {"encoding":{
    "x":{"field":"t","type":"quantitative","scale":{"domain":[0,1],"nice":false},"axis":{"values":[0,0.1,0.2,0.3,0.4,0.5,0.6,0.7,0.8,0.9,1],"format":"~g","title":"Logical time (seconds)"}},
    "y":{"field":"v","type":"quantitative","scale":{"domain":[800,1600],"nice":false,"zero":false},"axis":{"values":[800,1000,1200,1400,1600],"title":["Average","node overhead"]}}},
   "layer":[
    {"transform":[{"filter":"datum.p==3 && datum.s!='C'"}],"mark":{"type":"line"},
     "encoding":{
      "color":{"field":"s","type":"nominal","scale":{"domain":["A","I","K"],"range":["#000000","#0000ff","#ff00ff"]}},
      "strokeDash":{"field":"s","type":"nominal","scale":{"domain":["A","I","K"],"range":[[1,0],[4,2],[1.5,2.5]]}},
      "strokeWidth":{"condition":{"test":"datum.s=='A'","value":1},"value":1.6}}},
    {"transform":[{"filter":"datum.p==3 && datum.s!='C'"}],"mark":{"type":"point","filled":true,"opacity":1},
     "encoding":{
      "color":{"field":"s","type":"nominal","scale":{"domain":["A","I","K"],"range":["#000000","#0000ff","#ff00ff"]}},
      "size":{"condition":{"test":"datum.s=='K'","value":3},"value":9}}},
    {"transform":[{"filter":"datum.p==3 && datum.s=='C'"}],"mark":{"type":"point","filled":false,"color":"#ff0000","strokeWidth":1,"size":420,"opacity":1},
     "encoding":{"shape":{"field":"s","type":"nominal","scale":{"domain":["C"],"range":["M-1,0A1,0.8,0,1,1,1,0A1,0.8,0,1,1,-1,0Z"]}}}},
    {"data":{"values":[{"a":"x 10"}]},"mark":{"type":"text","align":"right","baseline":"alphabetic","dx":-16,"dy":41,"fontSize":16,"font":"Liberation Serif","color":"#000"},"encoding":{"x":{"datum":1,"type":"quantitative"},"y":{"datum":800,"type":"quantitative"},"text":{"field":"a"}}},
    {"data":{"values":[{"a":"\u22125"}]},"mark":{"type":"text","align":"right","baseline":"alphabetic","dx":-1,"dy":32,"fontSize":12,"font":"Liberation Serif","color":"#000"},"encoding":{"x":{"datum":1,"type":"quantitative"},"y":{"datum":800,"type":"quantitative"},"text":{"field":"a"}}}
   ]},
  {"transform":[{"filter":"datum.p==3 && datum.s=='A'"}],"mark":{"type":"point","opacity":0},
   "encoding":{
    "x":{"field":"t","type":"quantitative","scale":{"domain":[0,1],"nice":false},"axis":{"orient":"top","values":[0,0.1,0.2,0.3,0.4,0.5,0.6,0.7,0.8,0.9,1],"labels":false,"title":null}},
    "y":{"field":"v","type":"quantitative","scale":{"domain":[800,1600],"nice":false,"zero":false},"axis":{"orient":"right","values":[800,1000,1200,1400,1600],"labels":false,"title":null}}}}
 ],
 "resolve":{"axis":{"x":"independent","y":"independent"}}
}
]
}
